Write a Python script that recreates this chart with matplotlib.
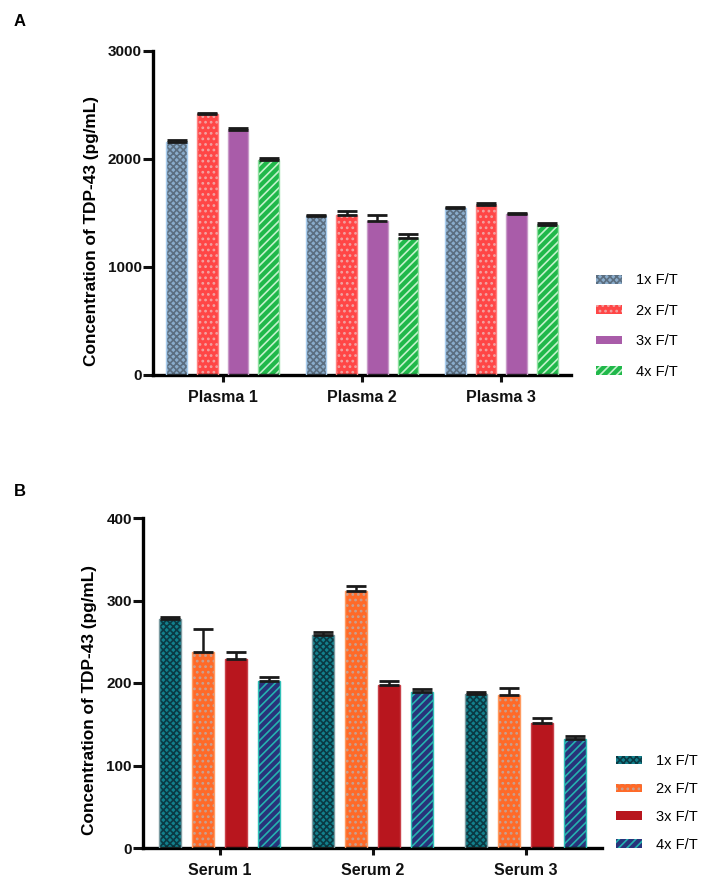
import numpy as np
import matplotlib
matplotlib.use("Agg")
import matplotlib.pyplot as plt

plt.rcParams['font.family'] = ['Liberation Sans', 'DejaVu Sans']
plt.rcParams['hatch.linewidth'] = 1.2

# Panel A data (plasma)
plasma_groups = ['Plasma 1', 'Plasma 2', 'Plasma 3']
ft_labels = ['1x F/T', '2x F/T', '3x F/T', '4x F/T']
plasma_1x = [2160, 1475, 1550]
plasma_2x = [2420, 1480, 1575]
plasma_3x = [2270, 1430, 1490]
plasma_4x = [1995, 1270, 1385]
plasma_err_1x = [15, 10, 5]
plasma_err_2x = [8, 40, 15]
plasma_err_3x = [15, 55, 12]
plasma_err_4x = [12, 40, 20]

# Panel B data (serum)
serum_groups = ['Serum 1', 'Serum 2', 'Serum 3']
serum_1x = [277, 258, 187]
serum_2x = [237, 311, 185]
serum_3x = [229, 198, 152]
serum_4x = [202, 189, 132]
serum_err_1x = [3, 4, 2]
serum_err_2x = [29, 6, 9]
serum_err_3x = [8, 4, 5]
serum_err_4x = [5, 4, 4]

# styles: (face, hatch colour, hatch, outline)
style_a = [('#8aaccb', '#5b6e80', 'xxxxx', '#a9cdee'),
           ('#ff4646', '#f2a2a2', '...', '#ff8080'),
           ('#a95ca9', '#a95ca9', None, '#c89ac8'),
           ('#20b84a', '#c4f2cc', '////', '#8fe0a0')]
style_b = [('#13808c', '#0a3a44', 'xxxxx', '#7a9aa0'),
           ('#ff6a28', '#c8a090', '...', '#ff9a60'),
           ('#b8161e', '#b8161e', None, '#c84048'),
           ('#28337a', '#25b2b0', '////', '#30c0b8')]


def draw_panel(ax, groups, series, errs, styles, width, step, ymax, yticks, label_xy):
    x = np.arange(len(groups))
    handles = []
    for j, (vals, err, st) in enumerate(zip(series, errs, styles)):
        xs = x + (j - 1.5) * step
        face, hcol, hatch, outline = st
        h = ax.bar(xs, vals, width, color=face, edgecolor=hcol, hatch=hatch,
                   linewidth=0, zorder=2)
        ax.bar(xs, vals, width, fill=False, edgecolor=outline, linewidth=1, zorder=3)
        ax.errorbar(xs, vals, yerr=[np.zeros(len(err)), err], fmt='none',
                    ecolor='#1a1a1a', elinewidth=1.8, capsize=7, capthick=2, zorder=4)
        handles.append(h)
    ax.set_xlim(-0.5, len(groups) - 0.5)
    ax.set_ylim(0, ymax)
    ax.set_yticks(yticks)
    ax.set_xticks(x)
    ax.set_xticklabels(groups, fontsize=11.5, fontweight='bold')
    for lab in ax.get_yticklabels():
        lab.set_fontweight('bold')
        lab.set_fontsize(11)
    ax.spines['top'].set_visible(False)
    ax.spines['right'].set_visible(False)
    ax.spines['left'].set_linewidth(2.4)
    ax.spines['bottom'].set_linewidth(2.4)
    ax.tick_params(axis='y', length=7, width=2.2, pad=1, colors='#111111')
    ax.tick_params(axis='x', length=5, width=2.2, pad=6, colors='#111111')
    ax.set_ylabel('Concentration of TDP-43 (pg/mL)', fontsize=12.4, fontweight='bold')
    ax.yaxis.set_label_coords(*label_xy)
    return handles


fig = plt.figure(figsize=(7.1, 8.85), dpi=100)

ax_a = fig.add_axes([153 / 710, 1 - 375 / 885, 418 / 710, 324 / 885])
h_a = draw_panel(ax_a, plasma_groups,
                 [plasma_1x, plasma_2x, plasma_3x, plasma_4x],
                 [plasma_err_1x, plasma_err_2x, plasma_err_3x, plasma_err_4x],
                 style_a, 0.15, 0.22, 3000, [0, 1000, 2000, 3000], (-0.129, 0.444))
fig.legend(h_a, ft_labels, loc='center left', bbox_to_anchor=(596 / 710, 1 - 326 / 885),
           frameon=False, fontsize=10.5, handlelength=1.75, handleheight=0.55,
           labelspacing=1.12, handletextpad=1.0, borderpad=0, borderaxespad=0)

ax_b = fig.add_axes([143 / 710, 1 - 848 / 885, 459 / 710, 330 / 885])
h_b = draw_panel(ax_b, serum_groups,
                 [serum_1x, serum_2x, serum_3x, serum_4x],
                 [serum_err_1x, serum_err_2x, serum_err_3x, serum_err_4x],
                 style_b, 0.144, 0.216, 400, [0, 100, 200, 300, 400], (-0.100, 0.448))
fig.legend(h_b, ft_labels, loc='center left', bbox_to_anchor=(616 / 710, 1 - 803 / 885),
           frameon=False, fontsize=10.5, handlelength=1.75, handleheight=0.55,
           labelspacing=0.95, handletextpad=1.0, borderpad=0, borderaxespad=0)

fig.text(14 / 710, 1 - 22 / 885, 'A', fontsize=12, fontweight='bold', va='center')
fig.text(14 / 710, 1 - 492 / 885, 'B', fontsize=12, fontweight='bold', va='center')

fig.savefig('out.png', dpi=100)
